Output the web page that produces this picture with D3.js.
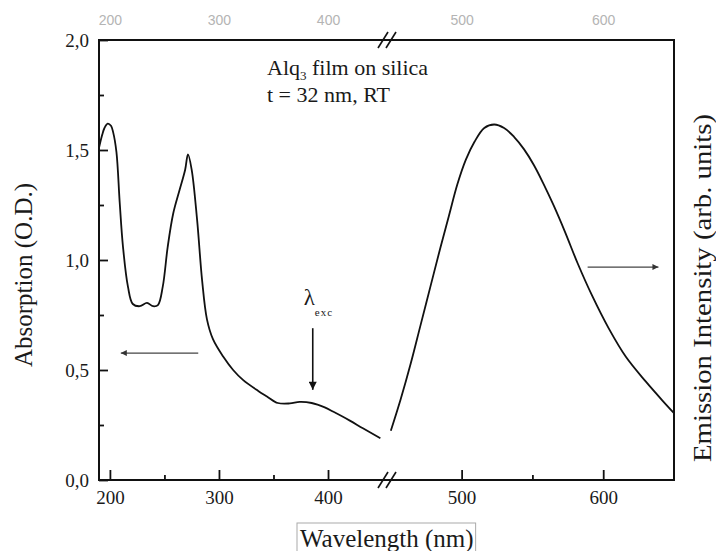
<!DOCTYPE html>
<html>
<head>
<meta charset="utf-8">
<script src="https://cdn.jsdelivr.net/npm/d3@7"></script>
<style>
  html, body { margin: 0; padding: 0; background: #fff; }
  svg { display: block; }
</style>
</head>
<body>
<svg id="chart" width="716" height="551"></svg>
<script>
// Absorption spectrum of the Alq3 film (wavelength in nm, optical density)
const absWavelength = [190, 193, 195, 198, 201, 203, 206, 209, 212, 216.5, 221, 227.5, 234, 239.5, 244,
  248.5, 253, 258, 264, 269, 271.6, 275, 280, 284.5, 289, 294.5, 304, 313, 322, 336, 344, 354, 365, 374,
  385, 397, 405, 420, 432, 448];
const absValue = [1.51, 1.57, 1.60, 1.62, 1.61, 1.58, 1.49, 1.26, 1.06, 0.88, 0.80, 0.79, 0.805, 0.79, 0.795,
  0.88, 1.06, 1.21, 1.32, 1.41, 1.48, 1.41, 1.18, 0.91, 0.73, 0.64, 0.56, 0.50, 0.455, 0.405, 0.38, 0.35, 0.348, 0.355,
  0.35, 0.33, 0.31, 0.27, 0.235, 0.19];

// Emission spectrum (wavelength in nm, arbitrary units)
const emWavelength = [450, 457, 464, 471, 478, 485, 491, 497, 503, 509, 516, 523, 530, 537, 544, 551, 558,
  565, 573, 582, 592, 604, 616, 630, 642, 650];
const emValue = [0.14, 0.23, 0.33, 0.44, 0.55, 0.66, 0.75, 0.84, 0.91, 0.96, 1.00, 1.01, 1.00, 0.975, 0.94,
  0.895, 0.84, 0.78, 0.705, 0.615, 0.525, 0.43, 0.35, 0.28, 0.225, 0.19];

// Axis ticks
const leftMajorTicks = [200, 300, 400];
const leftMinorTicks = [250, 350];
const rightMajorTicks = [500, 600];
const rightMinorTicks = [550];
const yMajorTicks = [0, 0.5, 1.0, 1.5, 2.0];
const yMinorTicks = [0.25, 0.75, 1.25, 1.75];

// Domains of the two segments of the broken wavelength axis
const leftDomain = [190, 455];
const rightDomain = [448, 650];
const absDomain = [0, 2];
const emDomain = [0, 1.25];

const SERIF = "'Liberation Serif', 'Times New Roman', Times, serif";
const SANS = "'Liberation Sans', Arial, Helvetica, sans-serif";
const INK = "#1a1a1a";

const svg = d3.select("#chart");
const margin = { left: 99, top: 40, right: 42, bottom: 71 };
const W = 716, H = 551;
const x0 = margin.left, x1 = W - margin.right;
const y0 = margin.top, y1 = H - margin.bottom;
const xBreak = 388;

const xL = d3.scaleLinear().domain(leftDomain).range([x0, xBreak]);
const xR = d3.scaleLinear().domain(rightDomain).range([xBreak, x1]);
const yL = d3.scaleLinear().domain(absDomain).range([y1, y0]);
const yR = d3.scaleLinear().domain(emDomain).range([y1, y0]);

const fmtComma = d => d3.format(".1f")(d).replace(".", ",");

function serifText(sel, size) {
  return sel.style("font-family", SERIF).style("font-size", size + "px").style("fill", INK);
}

// Arrow heads
const defs = svg.append("defs");
function marker(id, color, w, h) {
  defs.append("marker").attr("id", id)
    .attr("viewBox", "0 0 10 10").attr("refX", 10).attr("refY", 5)
    .attr("markerWidth", w).attr("markerHeight", h).attr("markerUnits", "userSpaceOnUse")
    .attr("orient", "auto")
    .append("path").attr("d", "M0,0 L10,5 L0,10 Z").attr("fill", color);
}
marker("headGray", "#333", 9, 6);
marker("headBlack", "#111", 9, 8);

// Curves
const absLine = d3.line().x(d => xL(d[0])).y(d => yL(d[1])).curve(d3.curveCatmullRom.alpha(0.5));
const emLine = d3.line().x(d => xR(d[0])).y(d => yR(d[1])).curve(d3.curveCatmullRom.alpha(0.5));

svg.append("path").datum(d3.zip(absWavelength, absValue))
  .attr("d", absLine).attr("fill", "none").attr("stroke", "#111").attr("stroke-width", 1.8);
svg.append("path").datum(d3.zip(emWavelength, emValue))
  .attr("d", emLine).attr("fill", "none").attr("stroke", "#111").attr("stroke-width", 1.8);

// Bottom axis, two segments, ticks pointing inward
function bottomAxis(scale, major, minor) {
  const g = svg.append("g").attr("transform", `translate(0,${y1})`);
  g.call(d3.axisBottom(scale).tickValues(major).tickSize(-10).tickPadding(11).tickFormat(d3.format("d")));
  g.append("g").call(d3.axisBottom(scale).tickValues(minor).tickSize(-5).tickFormat(""));
  g.selectAll(".domain").remove();
  g.selectAll("line").attr("stroke", "#111").attr("stroke-width", 1.8);
  serifText(g.selectAll("text"), 19);
}
bottomAxis(xL, leftMajorTicks, leftMinorTicks);
bottomAxis(xR, rightMajorTicks, rightMinorTicks);

// Top axis labels (grey, no ticks)
function topAxis(scale, major) {
  const g = svg.append("g").attr("transform", `translate(0,${y0})`);
  g.call(d3.axisTop(scale).tickValues(major).tickSize(0).tickPadding(15).tickFormat(d3.format("d")));
  g.selectAll(".domain").remove();
  g.selectAll("text").style("font-family", SANS).style("font-size", "14px").style("fill", "#b4b4b4");
}
topAxis(xL, leftMajorTicks);
topAxis(xR, rightMajorTicks);

// Left axis
const gy = svg.append("g").attr("transform", `translate(${x0},0)`);
gy.call(d3.axisLeft(yL).tickValues(yMajorTicks).tickSize(-9).tickPadding(10).tickFormat(fmtComma));
gy.append("g").call(d3.axisLeft(yL).tickValues(yMinorTicks).tickSize(-5).tickFormat(""));
gy.selectAll(".domain").remove();
gy.selectAll("line").attr("stroke", "#111").attr("stroke-width", 1.8);
serifText(gy.selectAll("text"), 19);

// Frame
svg.append("rect").attr("x", x0).attr("y", y0).attr("width", x1 - x0).attr("height", y1 - y0)
  .attr("fill", "none").attr("stroke", "#111").attr("stroke-width", 2);

// Axis break marks
[y0, y1].forEach(yy => {
  [-4, 4].forEach(off => {
    svg.append("line")
      .attr("x1", xBreak - 1 + off - 5).attr("y1", yy + 8)
      .attr("x2", xBreak - 1 + off + 5).attr("y2", yy - 8)
      .attr("stroke", "#111").attr("stroke-width", 1.6);
  });
});

// Axis titles
serifText(svg.append("text"), 25)
  .attr("transform", `translate(32,${(y0 + y1) / 2 + 15}) rotate(-90)`)
  .attr("text-anchor", "middle")
  .text("Absorption (O.D.)");

serifText(svg.append("text"), 26)
  .attr("transform", `translate(711,288) rotate(-90)`)
  .attr("text-anchor", "middle")
  .attr("textLength", 348).attr("lengthAdjust", "spacingAndGlyphs")
  .text("Emission Intensity (arb. units)");

// Wavelength title inside a thin box
const xTitle = svg.append("g");
const xBox = xTitle.append("rect");
const xt = serifText(xTitle.append("text"), 25)
  .attr("x", 300).attr("y", 547)
  .text("Wavelength (nm)");
const bb = xt.node().getBBox();
xBox.attr("x", bb.x - 3).attr("y", 523).attr("width", bb.width + 5).attr("height", 40)
  .attr("fill", "none").attr("stroke", "#aaa").attr("stroke-width", 1);

// Sample annotation
const note = serifText(svg.append("text"), 22).attr("x", 267).attr("y", 75);
note.append("tspan").text("Alq");
note.append("tspan").attr("dy", 5).style("font-size", "13px").text("3");
note.append("tspan").attr("dy", -5).text(" film on silica");
serifText(svg.append("text"), 22).attr("x", 267).attr("y", 102).text("t = 32 nm, RT");

// Excitation wavelength marker
const excWl = 386;
serifText(svg.append("text"), 23).attr("x", xL(excWl) - 9).attr("y", 305).text("λ");
serifText(svg.append("text"), 11).style("letter-spacing", "1px")
  .attr("x", xL(excWl) + 2).attr("y", 316).text("exc");
svg.append("line")
  .attr("x1", xL(excWl)).attr("y1", yL(0.69))
  .attr("x2", xL(excWl)).attr("y2", yL(0.41))
  .attr("stroke", "#111").attr("stroke-width", 1.6).attr("marker-end", "url(#headBlack)");

// Arrows pointing each curve to its axis
svg.append("line")
  .attr("x1", xL(281)).attr("y1", yL(0.577))
  .attr("x2", xL(210)).attr("y2", yL(0.577))
  .attr("stroke", "#444").attr("stroke-width", 1.2).attr("marker-end", "url(#headGray)");
svg.append("line")
  .attr("x1", xR(589)).attr("y1", yR(0.605))
  .attr("x2", xR(639)).attr("y2", yR(0.605))
  .attr("stroke", "#444").attr("stroke-width", 1.2).attr("marker-end", "url(#headGray)");
</script>
</body>
</html>
